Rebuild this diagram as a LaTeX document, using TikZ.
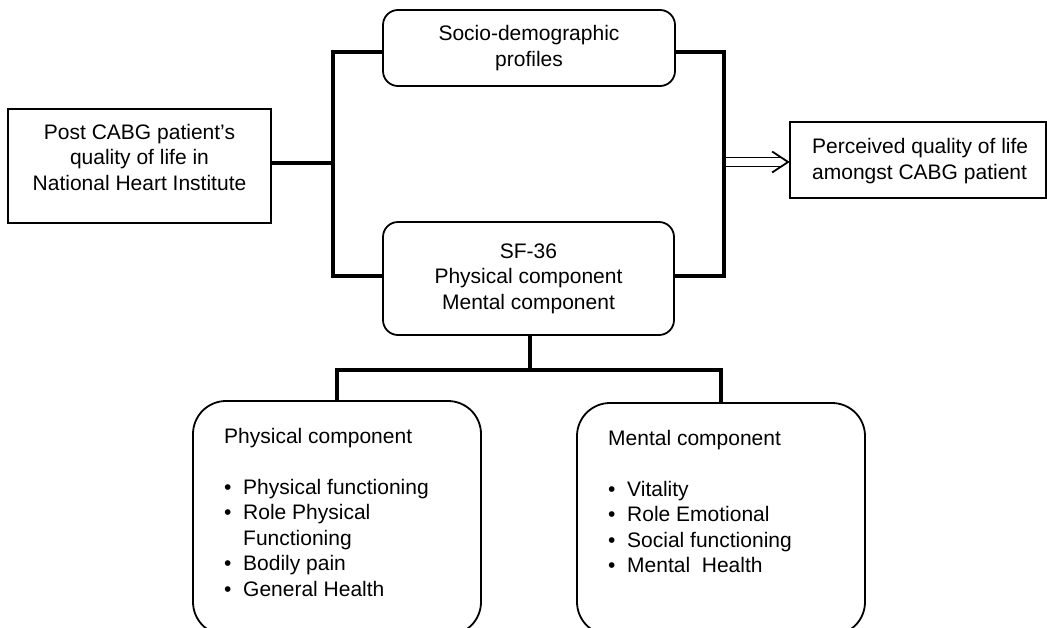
\documentclass[tikz,border=0pt]{standalone}
\usepackage{fontspec}
\setmainfont{Liberation Sans}
\begin{document}
\begin{tikzpicture}[x=1pt,y=-1pt,
  sq/.style={draw, line width=1.8pt, inner sep=0pt},
  rnd/.style={draw, line width=1.8pt, rounded corners=15pt, inner sep=0pt},
  big/.style={draw, line width=1.8pt, rounded corners=33pt, inner sep=0pt},
  txt/.style={font=\fontsize{21}{25.5}\selectfont, align=center, inner sep=0pt},
  conn/.style={line width=4.8pt, line join=miter},
  hollow/.style={line width=1.8pt, line join=miter}]
\useasboundingbox (0,0) rectangle (1047,627);
\clip (0,0) rectangle (1047,627);

% boxes
\node[sq, minimum width=263pt, minimum height=114pt] (post) at (139.5,166) {};
\node[txt] (postT) at (139.5,157) {Post CABG patient’s\\quality of life in\\National Heart Institute};

\node[rnd, txt, draw, minimum width=292pt, minimum height=76pt] (socio) at (529,48) {Socio-demographic\\profiles};

\node[rnd, txt, draw, minimum width=291pt, minimum height=113pt] (sf) at (528.5,278.5) {SF-36\\Physical component\\Mental component};

\node[sq, minimum width=256pt, minimum height=76pt] (perc) at (918,160) {};
\node[txt, align=left, anchor=west] (percT) at (812,161) {Perceived quality of life\\amongst CABG patient};

\node[big, minimum width=288pt, minimum height=234pt] (phys) at (337,518) {};
\node[txt, align=left, anchor=north west] (physT) at (224,428) {Physical component\\[25.5pt]
\makebox[19pt][l]{•}Physical functioning\\
\makebox[19pt][l]{•}Role Physical\\
\hspace*{19pt}Functioning\\
\makebox[19pt][l]{•}Bodily pain\\
\makebox[19pt][l]{•}General Health};

\node[big, minimum width=288pt, minimum height=232pt] (ment) at (721,519) {};
\node[txt, align=left, anchor=north west] (mentT) at (608,430) {Mental component\\[25.5pt]
\makebox[19pt][l]{•}Vitality\\
\makebox[19pt][l]{•}Role Emotional\\
\makebox[19pt][l]{•}Social functioning\\
\makebox[19pt][l]{•}Mental\ \ Health};

% junctions
\coordinate (jl) at (333,163);
\coordinate (jr) at (724,162);
\coordinate (jb) at (530,370);
\coordinate (tip) at (jr -| perc.west);

% hollow double arrow
\draw[hollow] ([shift={(2,-4.5)}]jr) -- ([shift={(-8.5,-4.5)}]tip);
\draw[hollow] ([shift={(2,4.5)}]jr) -- ([shift={(-8.5,4.5)}]tip);
\draw[hollow] ([shift={(-17,-10.5)}]tip) -- ([xshift=-1pt]tip) -- ([shift={(-17,10.5)}]tip);

% connectors
\draw[conn] (post.east |- jl) -- (jl);
\draw[conn] ([yshift=-4pt]socio.west) -| (jl) |- ([yshift=2.5pt]sf.west);
\draw[conn] ([yshift=-4pt]socio.east) -| (jr) |- ([yshift=2.5pt]sf.east);
\draw[conn] (sf.south -| jb) -- (jb);
\draw[conn] (phys.north) |- (jb) -| (ment.north);
\end{tikzpicture}
\end{document}
